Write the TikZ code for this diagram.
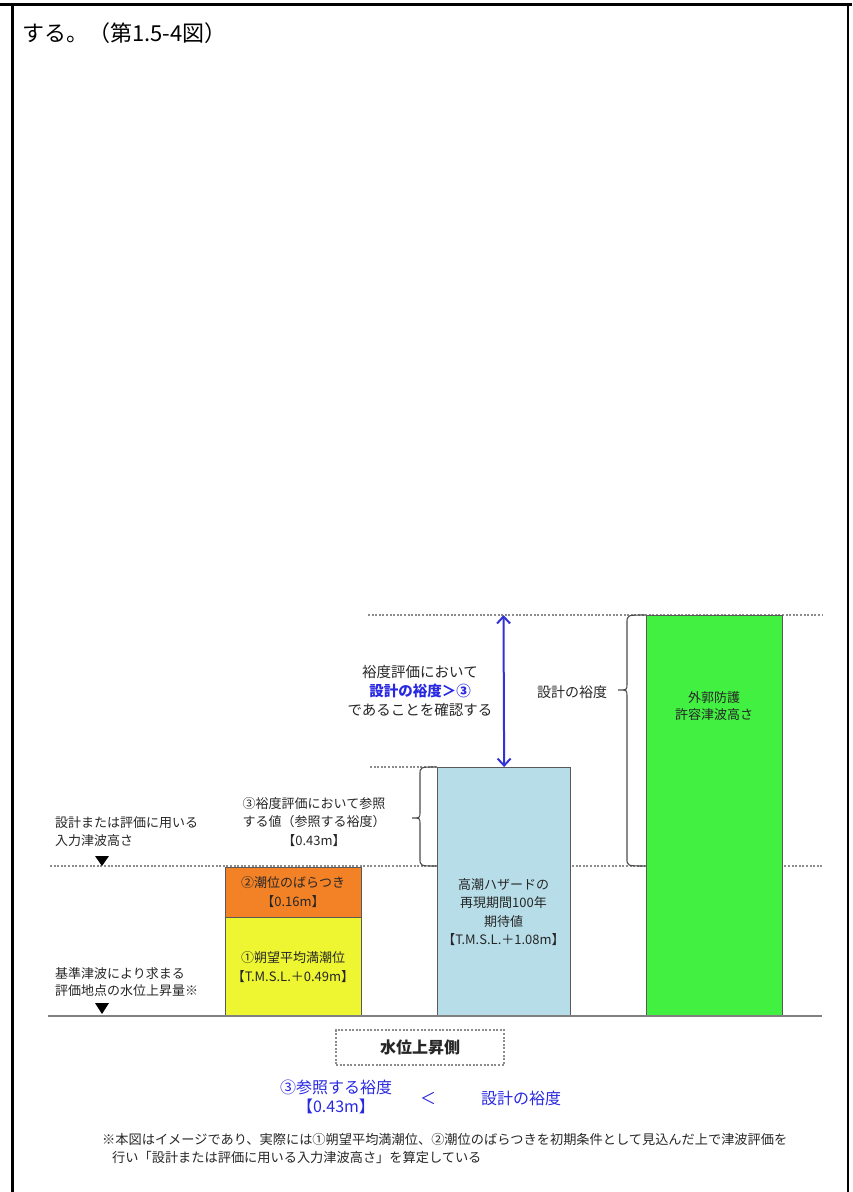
\documentclass[tikz,border=0pt]{standalone}
\usepackage{fontspec}
\setmainfont{Noto Sans CJK JP}
\usetikzlibrary{arrows.meta}
\definecolor{orangeF}{RGB}{243,130,38}
\definecolor{yellowF}{RGB}{238,246,50}
\definecolor{blueF}{RGB}{183,222,232}
\definecolor{greenF}{RGB}{66,240,66}
\definecolor{txtblue}{RGB}{40,40,225}
\definecolor{arrblue}{RGB}{50,50,215}
\tikzset{
  lbl/.style={font=\fontsize{13}{18.5}\selectfont, align=center, inner sep=0pt, text=black!85},
  lbll/.style={font=\fontsize{13}{17.5}\selectfont, align=left, inner sep=0pt, anchor=west, text=black!85},
  dotln/.style={draw=black!45, line width=1.2pt, dash pattern=on 2pt off 1.6pt},
  barbox/.style={draw=black!65, line width=1.3pt, inner sep=0pt, anchor=north west},
  bracefrm/.style={draw=black!70, line width=1.1pt},
  frame/.style={draw=black, line width=3pt},
}
\begin{document}
\begin{tikzpicture}[x=1pt,y=-1pt]
\useasboundingbox (0,0) rectangle (852,1192);
% page frame
\draw[frame] (0,4) -- (852,4);
\draw[frame] (12,4) -- (12,1192);
\draw[line width=2pt] (848,4) -- (848,1192);
\node[anchor=west, inner sep=0pt, font=\fontsize{22}{26}\selectfont] (head) at (22,33) {する。（第1.5-4図）};

% dotted level lines
\draw[dotln] (368,615) -- (822,615);
\draw[dotln] (50,866) -- (822,866);
\draw[dotln] (370,767) -- (437,767);

% bars
\node[barbox, fill=orangeF, minimum width=136pt, minimum height=50pt] (orb) at (225,867) {};
\node[barbox, fill=yellowF, minimum width=136pt, minimum height=99pt] (yeb) at (225,917) {};
\node[barbox, fill=blueF, minimum width=133pt, minimum height=249pt] (blb) at (437,767) {};
\node[barbox, fill=greenF, minimum width=136pt, minimum height=401pt] (grb) at (646,615) {};

% ground line
\draw[draw=black!50, line width=2pt] (48,1016) -- (822,1016);

% bar labels
\node[lbl] (orl) at (293,892) {②潮位のばらつき\\【0.16m】};
\node[lbl] (yel) at (293,967) {①朔望平均満潮位\\【T.M.S.L.＋0.49m】};
\node[lbl] (bll) at (503.5,912) {高潮ハザードの\\再現期間100年\\期待値\\【T.M.S.L.＋1.08m】};
\node[lbl, font=\fontsize{13}{17}\selectfont] (grl) at (714,706) {外郭防護\\許容津波高さ};

% left labels and markers
\node[lbll] (inl) at (55,831.5) {設計または評価に用いる\\入力津波高さ};
\node[lbll] (bsl) at (55,982) {基準津波により求まる\\評価地点の水位上昇量※};
\fill[black] (95,856) -- (109,856) -- (102,866) -- cycle;
\fill[black] (95,1003) -- (109,1003) -- (102,1014) -- cycle;

% braces
\draw[bracefrm] (436,767) .. controls (420,767) .. (420,775) -- (420,812) .. controls (420,818) .. (412,818) .. controls (420,818) .. (420,824) -- (420,858) .. controls (420,866) .. (436,866);
\draw[bracefrm] (645,615) .. controls (627,615) .. (627,623) -- (627,684) .. controls (627,690) .. (618,690) .. controls (627,690) .. (627,696) -- (627,858) .. controls (627,866) .. (645,866);
\node[lbl] (refl) at (314,822) {③裕度評価において参照\\する値（参照する裕度）\\【0.43m】};
\node[lbl, font=\fontsize{14}{18}\selectfont] (dml) at (572,692) {設計の裕度};

% margin arrow
\coordinate (atop) at (503.5,615);
\draw[arrblue, line width=2pt, {Straight Barb[length=7pt,width=13pt]}-{Straight Barb[length=7pt,width=13pt]}] (atop) -- (blb.north);
\node[lbl, font=\fontsize{14.5}{19}\selectfont] (chk) at (420,691) {裕度評価において\\{\bfseries\color{txtblue}設計の裕度＞③}\\であることを確認する};

% legend
\node[dotln, minimum width=168pt, minimum height=35pt, inner sep=0pt, font=\bfseries\fontsize{16}{19}\selectfont, text=black!85] (side) at (420,1047.5) {水位上昇側};
\node[lbl, font=\fontsize{16}{19.5}\selectfont, text=txtblue] (cmpa) at (336,1097) {③参照する裕度\\【0.43m】};
\node[lbl, font=\fontsize{16}{19}\selectfont, text=txtblue] (lt) at (428,1098) {＜};
\node[lbl, font=\fontsize{16}{19}\selectfont, text=txtblue] (cmpb) at (521,1098) {設計の裕度};

% note
\node[lbll, font=\fontsize{13.2}{18}\selectfont] (note1) at (102,1139) {※本図はイメージであり、実際には①朔望平均満潮位、②潮位のばらつきを初期条件として見込んだ上で津波評価を};
\node[lbll, font=\fontsize{13.2}{18}\selectfont] (note2) at (112,1157) {行い「設計または評価に用いる入力津波高さ」を算定している};
\end{tikzpicture}
\end{document}
